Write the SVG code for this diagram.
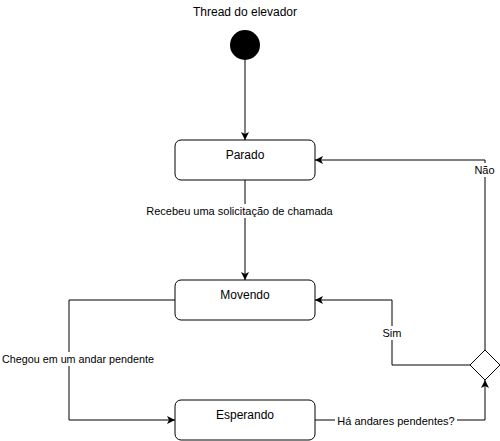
<svg xmlns="http://www.w3.org/2000/svg" width="500" height="441" viewBox="0 0 500 441">
<defs>
<marker id="arr" viewBox="0 0 10 10" refX="10" refY="5" markerWidth="8" markerHeight="8" markerUnits="userSpaceOnUse" orient="auto">
<path d="M0,0 L10,5 L0,10 L2.5,5 Z" fill="#000"/>
</marker>
<style>
.node{fill:#fff;stroke:#000;stroke-width:1}
.t{font-family:"Liberation Sans",Arial,sans-serif;font-size:12px;fill:#000;text-anchor:middle}
.el{font-family:"Liberation Sans",Arial,sans-serif;font-size:11px;fill:#000;text-anchor:middle}
.edge{fill:none;stroke:#000;stroke-width:1;marker-end:url(#arr)}
.lbg{fill:#fff}
</style>
</defs>
<rect width="500" height="441" fill="#fff"/>
<g id="title"><text class="t" x="245" y="16">Thread do elevador</text></g>
<g id="start"><circle cx="245" cy="45" r="15" fill="#000"/></g>
<g id="connectors">
<path class="edge" d="M245,60 L245,140"/>
<path class="edge" d="M245,180 L245,280"/>
<path class="edge" d="M175,300 L69,300 L69,420 L175,420"/>
<path class="edge" d="M315,420 L485,420 L485,380"/>
<path class="edge" d="M470,365 L392,365 L392,300 L315,300"/>
<path class="edge" d="M485,350 L485,160 L315,160"/>
<rect class="lbg" x="146" y="204" width="187" height="14"/>
<text class="el" x="239.5" y="215">Recebeu uma solicitação de chamada</text>
<rect class="lbg" x="1" y="352" width="155" height="14"/>
<text class="el" x="2" y="363" style="text-anchor:start" textLength="152" lengthAdjust="spacingAndGlyphs">Chegou em um andar pendente</text>
<rect class="lbg" x="335" y="414" width="122" height="14"/>
<text class="el" x="396" y="425">Há andares pendentes?</text>
<rect class="lbg" x="383" y="326" width="19" height="14"/>
<text class="el" x="392" y="337">Sim</text>
<rect class="lbg" x="474" y="163" width="21" height="14"/>
<text class="el" x="484.5" y="174">Não</text>
</g>
<g id="parado"><rect class="node" x="175" y="140" width="140" height="40" rx="6"/><text class="t" x="245" y="159">Parado</text></g>
<g id="movendo"><rect class="node" x="175" y="280" width="140" height="40" rx="6"/><text class="t" x="245" y="299">Movendo</text></g>
<g id="esperando"><rect class="node" x="175" y="400" width="140" height="40" rx="6"/><text class="t" x="245" y="419">Esperando</text></g>
<g id="decisao"><path class="node" d="M485,350 L500,365 L485,380 L470,365 Z"/></g>
</svg>
